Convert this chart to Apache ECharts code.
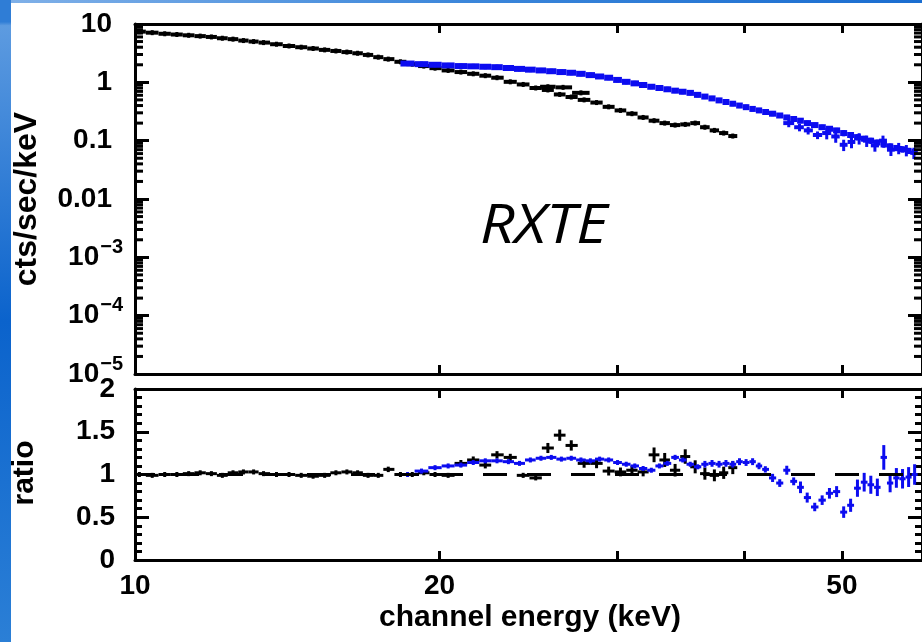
<!DOCTYPE html>
<html>
<head>
<meta charset="utf-8">
<title>RXTE spectrum and ratio</title>
<script src="https://cdn.jsdelivr.net/npm/echarts@6.0.0/dist/echarts.min.js"></script>
<style>
  html, body { margin: 0; padding: 0; background: #fff; }
  #main { width: 922px; height: 642px; }
</style>
</head>
<body>
<div id="main"></div>
<script>
// black data set: channel energy (keV), cts/sec/keV, relative error, ratio to model
const blackE = [10.1, 10.4, 10.7, 11.0, 11.3, 11.6, 11.9, 12.2, 12.5, 12.8, 13.1, 13.4, 13.8, 14.2, 14.6, 15.0, 15.4, 15.8, 16.2, 16.6, 17.0, 17.4,
  17.8, 18.3, 18.8, 19.3, 19.8, 20.4, 21.0, 21.6, 22.2, 22.8, 23.5, 24.2, 24.9, 25.6, 26.3, 27.0, 27.8, 28.6, 29.4,
  30.2, 31.0, 31.8, 32.6, 33.4, 34.2, 35.0, 35.8, 36.6, 37.4, 38.2, 39.0];
const blackV = [7.4, 7.1, 6.8, 6.6, 6.4, 6.2, 6.0, 5.7, 5.5, 5.2, 5.0, 4.8, 4.5, 4.2, 4.0, 3.8, 3.6, 3.45, 3.3, 3.15, 2.95, 2.7,
  2.5, 2.25, 2.05, 1.9, 1.75, 1.6, 1.5, 1.4, 1.3, 1.2, 1.02, 0.92, 0.8, 0.74, 0.62, 0.56, 0.5, 0.45, 0.38,
  0.33, 0.29, 0.25, 0.22, 0.2, 0.185, 0.19, 0.2, 0.17, 0.15, 0.135, 0.12];
const blackErr = [0.012, 0.012, 0.012, 0.012, 0.012, 0.012, 0.012, 0.012, 0.012, 0.012, 0.012, 0.012, 0.012, 0.012, 0.012, 0.012, 0.012, 0.012, 0.012, 0.012, 0.012, 0.012,
  0.03, 0.02, 0.02, 0.02, 0.02, 0.02, 0.035, 0.035, 0.035, 0.035, 0.035, 0.03, 0.03, 0.045, 0.045, 0.045, 0.045, 0.05, 0.05,
  0.05, 0.05, 0.05, 0.07, 0.07, 0.07, 0.07, 0.07, 0.07, 0.07, 0.07, 0.07];
const blackRatio = [1.0, 0.99, 1.0, 1.0, 1.01, 1.02, 1.01, 0.99, 1.02, 1.03, 1.03, 1.01, 1.0, 1.0, 0.99, 0.98, 0.99, 1.02, 1.03, 1.02, 0.99, 0.99,
  1.06, 1.0, 1.0, 1.02, 1.0, 0.99, 1.13, 1.17, 1.11, 1.23, 1.2, 0.99, 0.96, 1.31, 1.46, 1.34, 1.13, 1.13, 1.04,
  1.03, 1.05, 1.03, 1.23, 1.17, 1.05, 1.21, 1.09, 1.01, 0.99, 1.02, 1.08];
// second black track (upper branch near 25-28 keV)
const blackExtraE = [25.6, 26.5, 27.6];
const blackExtraV = [0.84, 0.82, 0.66];
const blackExtraErr = [0.02, 0.02, 0.02];

// blue data set
const blueE = [18.6, 19.2, 19.8, 20.4, 21.0, 21.6, 22.2, 22.8, 23.4, 24.0, 24.6, 25.2, 25.8, 26.4, 27.0, 27.6, 28.2, 28.8, 29.4, 30.0,
  30.6, 31.2, 31.8, 32.4, 33.0, 33.6, 34.2, 34.8, 35.4, 36.0, 36.6, 37.2, 37.8, 38.4, 39.0, 39.6, 40.2, 40.8, 41.4, 42.0,
  42.7, 43.4, 44.1, 44.8, 45.5, 46.2, 47.0, 47.8, 48.6, 49.4, 50.2, 51.0, 51.8, 52.6, 53.4, 54.2, 55.0, 55.8, 56.6, 57.4, 58.2, 59.0];
const blueV = [2.1, 2.05, 2.0, 1.95, 1.9, 1.88, 1.85, 1.82, 1.76, 1.7, 1.65, 1.6, 1.55, 1.5, 1.46, 1.4, 1.33, 1.26, 1.2, 1.1,
  1.02, 0.96, 0.9, 0.84, 0.8, 0.76, 0.72, 0.69, 0.66, 0.61, 0.57, 0.53, 0.49, 0.46, 0.43, 0.4, 0.375, 0.35, 0.33, 0.31,
  0.29, 0.27, 0.25, 0.235, 0.22, 0.2, 0.185, 0.17, 0.16, 0.15, 0.135, 0.125, 0.115, 0.108, 0.1, 0.093, 0.086, 0.08, 0.075, 0.071, 0.067, 0.064];
const blueErr = [0.02, 0.02, 0.02, 0.02, 0.02, 0.02, 0.02, 0.02, 0.02, 0.02, 0.02, 0.02, 0.02, 0.02, 0.02, 0.02, 0.02, 0.02, 0.02, 0.02,
  0.025, 0.025, 0.025, 0.025, 0.025, 0.025, 0.025, 0.025, 0.025, 0.025, 0.035, 0.035, 0.035, 0.035, 0.035, 0.035, 0.035, 0.035, 0.035, 0.035,
  0.05, 0.05, 0.05, 0.05, 0.08, 0.08, 0.08, 0.08, 0.08, 0.08, 0.12, 0.12, 0.12, 0.12, 0.12, 0.12, 0.12, 0.12, 0.12, 0.12, 0.12, 0.12];
const blueRatio = [1.0, 1.04, 1.08, 1.1, 1.11, 1.14, 1.16, 1.16, 1.15, 1.13, 1.17, 1.19, 1.2, 1.18, 1.19, 1.17, 1.16, 1.18, 1.17, 1.14,
  1.12, 1.1, 1.07, 1.05, 1.1, 1.13, 1.2, 1.17, 1.12, 1.09, 1.12, 1.13, 1.12, 1.13, 1.12, 1.15, 1.14, 1.15, 1.1, 1.06,
  0.96, 0.9, 1.05, 0.92, 0.85, 0.73, 0.62, 0.7, 0.78, 0.8, 0.56, 0.64, 0.84, 0.91, 0.88, 0.85, 1.2, 0.9, 0.96, 0.95, 0.97, 1.0];
// scattered lower blue points above 44 keV
const blueLowE = [44.3, 45.4, 46.3, 47.3, 48.3, 49.3, 50.2, 51.1, 52.0, 52.9, 53.9, 54.9, 55.9, 56.9, 57.9, 58.9];
const blueLowV = [0.2, 0.17, 0.15, 0.125, 0.135, 0.118, 0.085, 0.095, 0.11, 0.1, 0.083, 0.1, 0.07, 0.075, 0.069, 0.062];
const blueLowErr = [0.15, 0.15, 0.15, 0.15, 0.22, 0.22, 0.22, 0.22, 0.22, 0.22, 0.22, 0.22, 0.22, 0.22, 0.22, 0.22];

// model line in the ratio panel
const modelE = [10, 60];
const modelR = [1, 1];

// axes
const xMin = 10, xMax = 60;
const xTicks = [20, 30, 40, 50];
const xLabels = [10, 20, 50];
const yDecades = [1e-5, 1e-4, 1e-3, 0.01, 0.1, 1, 10];
const yMinor = [];   // 2..9 x 10^n
yDecades.slice(0, -1).forEach(function (d) {
  for (let k = 2; k <= 9; k++) yMinor.push(d * k);
});

const FONT = '"Liberation Sans", Arial, sans-serif';
const BLUE = '#0c0cf0';

// [e, v, binLo, binHi, vLo, vHi]
function crosses(E, V, err) {
  return E.map(function (e, i) {
    const lo = i > 0 ? (E[i - 1] + e) / 2 : e - (E[1] - E[0]) / 2;
    const hi = i < E.length - 1 ? (e + E[i + 1]) / 2 : e + (e - E[i - 1]) / 2;
    return [e, V[i], lo, hi, V[i] * (1 - err[i]), V[i] * (1 + err[i])];
  });
}

function crossSeries(data, color, xi, yi, lw) {
  return {
    type: 'custom', xAxisIndex: xi, yAxisIndex: yi, clip: true,
    encode: { x: 0, y: 1 }, data: data,
    renderItem: function (params, api) {
      const e = api.value(0), v = api.value(1);
      const a = api.coord([api.value(2), v]);
      const b = api.coord([api.value(3), v]);
      const c = api.coord([e, api.value(4)]);
      const d = api.coord([e, api.value(5)]);
      return {
        type: 'group',
        children: [
          { type: 'line', shape: { x1: a[0], y1: a[1], x2: b[0], y2: b[1] }, style: { stroke: color, lineWidth: lw } },
          { type: 'line', shape: { x1: c[0], y1: Math.max(c[1], a[1] + 2.5), x2: d[0], y2: Math.min(d[1], a[1] - 2.5) },
            style: { stroke: color, lineWidth: 3 } }
        ]
      };
    }
  };
}

const frame = { show: true, onZero: false, lineStyle: { color: '#000', width: 3 } };
const tickStyle = { color: '#000', width: 3 };

function xAx(grid, pos, labels) {
  return {
    type: 'log', gridIndex: grid, position: pos, min: xMin, max: xMax,
    axisLine: frame,
    axisTick: { show: true, inside: true, length: 9, lineStyle: tickStyle, customValues: xTicks },
    axisLabel: labels ? { show: true, customValues: xLabels, margin: 12, color: '#000', fontFamily: FONT, fontWeight: 'bold', fontSize: 28 } : { show: false },
    splitLine: { show: false }
  };
}

function logYAx(pos, labels) {
  return {
    type: 'log', gridIndex: 0, position: pos, min: 1e-5, max: 10,
    axisLine: frame,
    axisTick: { show: true, inside: true, length: 14, lineStyle: tickStyle, customValues: yDecades },
    axisLabel: labels ? {
      show: true, customValues: yDecades, margin: 12,
      formatter: function (v) {
        const n = Math.round(Math.log10(v));
        if (n >= -2) return '{p|' + ['0.01', '0.1', '1', '10'][n + 2] + '}';
        return '{m|10}{s|\u2212' + (-n) + '}';
      },
      rich: {
        p: { fontSize: 28, fontWeight: 'bold', fontFamily: FONT, color: '#000', padding: [0, 11, 0, 0] },
        m: { fontSize: 28, fontWeight: 'bold', fontFamily: FONT, color: '#000' },
        s: { fontSize: 20, fontWeight: 'bold', fontFamily: FONT, color: '#000', padding: [0, 0, 20, 1] }
      }
    } : { show: false },
    splitLine: { show: false }
  };
}

function ratioYAx(pos, labels) {
  return {
    type: 'value', gridIndex: 1, position: pos, min: 0, max: 2, interval: 0.5,
    axisLine: frame,
    axisTick: { show: true, inside: true, length: 14, lineStyle: tickStyle },
    minorTick: { show: true, splitNumber: 5, length: 7, lineStyle: tickStyle },
    axisLabel: labels ? { show: true, margin: 20, color: '#000', fontFamily: FONT, fontWeight: 'bold', fontSize: 28 } : { show: false },
    splitLine: { show: false },
    minorSplitLine: { show: false }
  };
}

const chart = echarts.init(document.getElementById('main'), null, { renderer: 'canvas' });
chart.setOption({
  backgroundColor: '#fff',
  animation: false,
  grid: [
    { left: 135, top: 24, width: 791, height: 350 },
    { left: 135, top: 389, width: 791, height: 171 }
  ],
  xAxis: [xAx(0, 'bottom', false), xAx(0, 'top', false), xAx(1, 'bottom', true), xAx(1, 'top', false)],
  yAxis: [logYAx('left', true), logYAx('right', false), ratioYAx('left', true), ratioYAx('right', false)],
  series: [
    crossSeries(crosses(blackE, blackV, blackErr), '#000', 0, 0, 4),
    crossSeries(crosses(blackExtraE, blackExtraV, blackExtraErr), '#000', 0, 0, 4),
    crossSeries(crosses(blueE, blueV, blueErr), BLUE, 0, 0, 6),
    crossSeries(crosses(blueLowE, blueLowV, blueLowErr), BLUE, 0, 0, 4),
    {
      type: 'line', xAxisIndex: 2, yAxisIndex: 2, symbol: 'none', silent: true,
      data: modelE.map(function (e, i) { return [e, modelR[i]]; }),
      lineStyle: { color: '#000', width: 3, type: [24, 20], dashOffset: 4 }
    },
    crossSeries(crosses(blackE, blackRatio, blackErr), '#000', 2, 2, 3),
    crossSeries(crosses(blueE, blueRatio, blueErr), BLUE, 2, 2, 3)
  ]
});

// slide background, titles and the minor ticks of the log count axis
const g = [
  { type: 'rect', z: -10, shape: { x: 0, y: 0, width: 11, height: 642 },
    style: { fill: new echarts.graphic.LinearGradient(0, 0, 0, 1, [
      { offset: 0, color: '#2f7dd6' }, { offset: 0.034, color: '#2f7dd6' }, { offset: 0.04, color: '#5d9be0' },
      { offset: 0.5, color: '#0b63cc' }, { offset: 1, color: '#2b7fd6' }]) } },
  { type: 'rect', z: -10, shape: { x: 11, y: 0, width: 911, height: 3 },
    style: { fill: new echarts.graphic.LinearGradient(0, 0, 1, 0, [
      { offset: 0, color: '#7fb0e8' }, { offset: 0.5, color: '#3b86da' }, { offset: 1, color: '#1a6dd0' }]) } },
  { type: 'text', x: 480, y: 228, scaleX: 1.12,
    style: { text: 'RXTE', font: 'italic 54px "Open Sans", sans-serif', fill: '#000', align: 'left', verticalAlign: 'middle' } },
  { type: 'text', x: 27, y: 199, rotation: Math.PI / 2,
    style: { text: 'cts/sec/keV', font: 'bold 32px ' + FONT, fill: '#000', align: 'center', verticalAlign: 'middle' } },
  { type: 'text', x: 25, y: 473, rotation: Math.PI / 2,
    style: { text: 'ratio', font: 'bold 30px ' + FONT, fill: '#000', align: 'center', verticalAlign: 'middle' } },
  { type: 'text', x: 530, y: 618,
    style: { text: 'channel energy (keV)', font: 'bold 30px ' + FONT, fill: '#000', align: 'center', verticalAlign: 'middle' } }
];
yMinor.forEach(function (v) {
  const p = chart.convertToPixel({ xAxisIndex: 0, yAxisIndex: 0 }, [xMin, v]);
  const q = chart.convertToPixel({ xAxisIndex: 0, yAxisIndex: 0 }, [xMax, v]);
  g.push({ type: 'rect', z: 50, shape: { x: p[0], y: p[1] - 1.5, width: 8, height: 3 }, style: { fill: '#000' } });
  g.push({ type: 'rect', z: 50, shape: { x: q[0] - 8, y: q[1] - 1.5, width: 8, height: 3 }, style: { fill: '#000' } });
});
chart.setOption({ graphic: { elements: g } });
</script>
</body>
</html>
